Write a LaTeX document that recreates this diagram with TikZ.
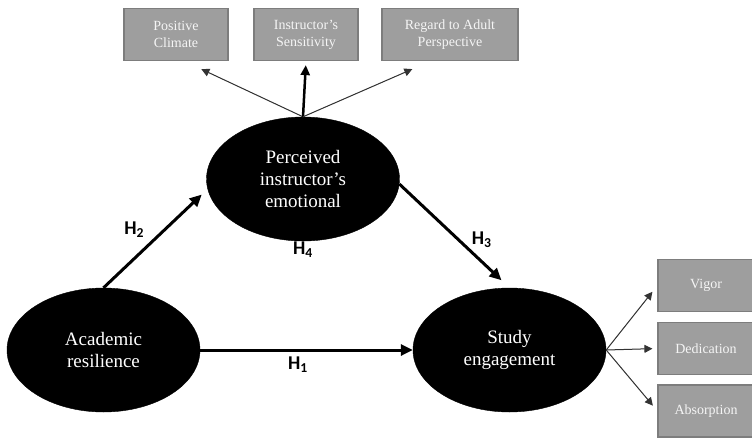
\documentclass[tikz,border=0pt]{standalone}
\usepackage{fontspec}
\setmainfont{Liberation Serif}
\newfontfamily\hfont{Carlito}
\usepackage{xcolor}
\usetikzlibrary{arrows.meta,positioning,shapes.geometric}
\definecolor{boxfill}{RGB}{158,158,158}
\definecolor{boxline}{RGB}{125,125,125}
\definecolor{boxtext}{RGB}{245,245,245}

\begin{document}
\begin{tikzpicture}[
  x=1pt, y=-1pt,
  latent/.style={draw, ellipse, fill=black, minimum width=193pt, minimum height=124pt, inner sep=0pt, align=center, text=white, font=\fontsize{19}{22}\selectfont},
  indicator/.style={draw=boxline, line width=1.2pt, fill=boxfill, minimum height=52pt, inner sep=0pt, align=center, text=boxtext, font=\fontsize{14}{17}\selectfont},
  harrow/.style={-{Triangle[length=12pt, width=11pt]}, line width=3pt},
  midarrow/.style={-{Triangle[length=10pt, width=9pt]}, line width=2.5pt},
  thinarrow/.style={-{Triangle[length=8pt, width=8pt]}, line width=1pt, draw=black!80, fill=black!80},
  hyp/.style={font=\hfont\bfseries\fontsize{19.5}{19.5}\selectfont, inner sep=0pt},
]
  \useasboundingbox (0,0) rectangle (752,437);

  % latent constructs
  \node[latent] (acad) at (103.5,350) {Academic\\resilience};
  \node[latent] (emo) at (303,179) {Perceived\\instructor's\\emotional};
  \node[latent] (stud) at (509.5,350) {Study\\engagement};

  % indicators
  \node[indicator, minimum width=104pt] (clim) at (176,34.5) {Positive\\Climate};
  \node[indicator, minimum width=104pt] (sens) at (306,34.5) {Instructor's\\Sensitivity};
  \node[indicator, minimum width=136pt] (persp) at (450,34.5) {Regard to Adult\\Perspective};
  \node[indicator, minimum width=96pt] (vig) at (706,285.5) {Vigor};
  \node[indicator, minimum width=96pt] (ded) at (706,348.5) {Dedication};
  \node[indicator, minimum width=96pt] (absn) at (706,411) {Absorption};

  % hypotheses
  \draw[harrow] (acad.east) -- node[hyp, pos=0.46, below=5pt]{H\textsubscript{1}} (stud.west);
  \draw[harrow, shorten >=8pt] (acad.north) -- node[hyp, pos=0.5, above left=-1pt and 10pt]{H\textsubscript{2}} (emo.186);
  \draw[harrow, shorten >=11pt] (emo.-3) -- node[hyp, pos=0.5, right=16pt, yshift=-4pt]{H\textsubscript{3}} (stud.north);
  \node[hyp, below=0pt of emo.south] (h4) {H\textsubscript{4}};

  % measurement arrows
  \draw[thinarrow, shorten >=19pt] (emo.north) -- (clim.-73);
  \draw[midarrow, shorten >=4pt] (emo.north) -- (sens.south);
  \draw[thinarrow, shorten >=20pt] (emo.north) -- (persp.234);
  \draw[thinarrow, shorten >=8pt] (stud.east) -- (vig.west);
  \draw[thinarrow, shorten >=5pt] (stud.east) -- (ded.west);
  \draw[thinarrow, shorten >=7pt] (stud.east) -- (absn.west);
\end{tikzpicture}
\end{document}
